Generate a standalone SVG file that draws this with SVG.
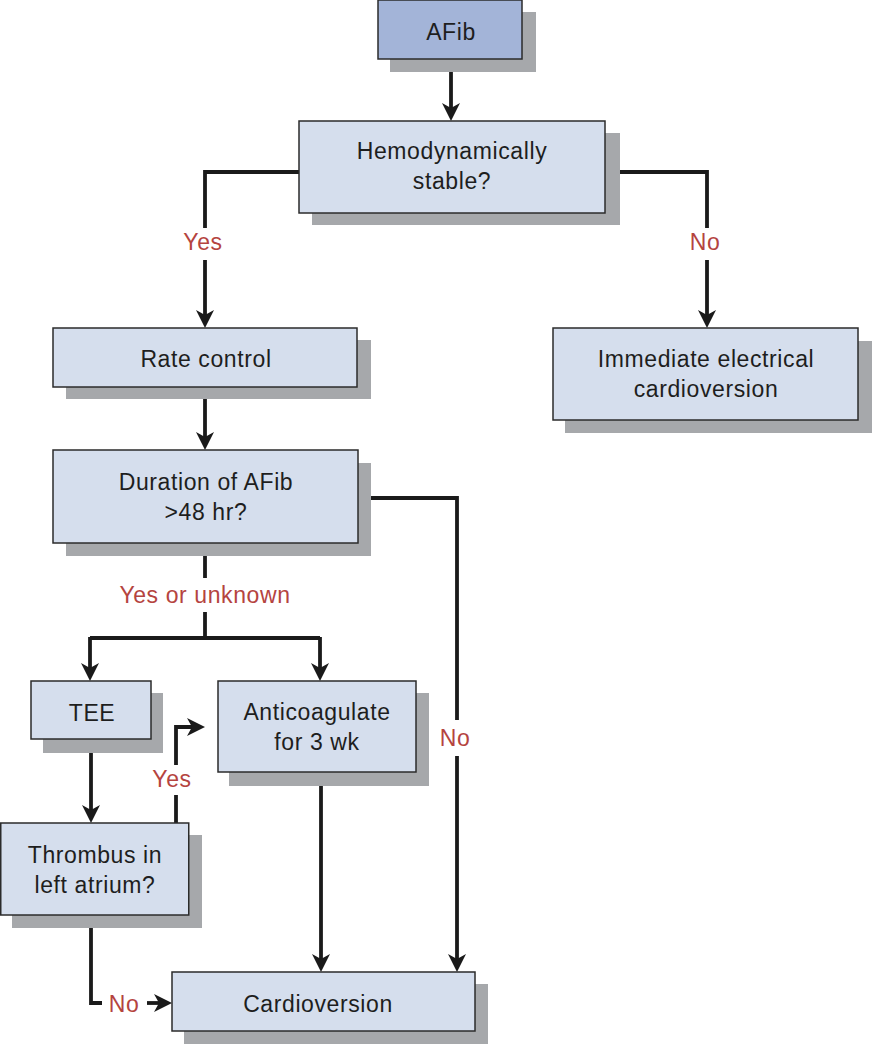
<svg xmlns="http://www.w3.org/2000/svg" width="872" height="1044" viewBox="0 0 872 1044">
<defs>
<marker id="ah" viewBox="0 0 18 20" refX="8" refY="10" markerWidth="18" markerHeight="20" markerUnits="userSpaceOnUse" orient="auto">
<path d="M0,1 L18,10 L0,19 L5,10 z" fill="#1a1a1a"/>
</marker>
<style>
.box{fill:#d5deed;stroke:#2b2b2b;stroke-width:1.5}
.start{fill:#a3b4d8;stroke:#2b2b2b;stroke-width:1.5}
.sh{fill:#a6a8ab}
.t{font-family:"Liberation Sans",Arial,sans-serif;font-size:23px;letter-spacing:0.6px;fill:#1e1e1e;text-anchor:middle}
.lbl{font-family:"Liberation Sans",Arial,sans-serif;font-size:23px;letter-spacing:0.6px;fill:#b5443f;text-anchor:middle}
.ln{fill:none;stroke:#1a1a1a;stroke-width:3.8}
.arr{fill:none;stroke:#1a1a1a;stroke-width:3.8;marker-end:url(#ah)}
</style>
</defs>
<rect width="872" height="1044" fill="#ffffff"/>

<g id="connectors">
<path class="arr" d="M451,72 L451,111"/>
<path class="ln" d="M299,172 L205,172 L205,228"/>
<path class="arr" d="M205,260 L205,318"/>
<path class="ln" d="M605,172 L707,172 L707,228"/>
<path class="arr" d="M707,260 L707,318"/>
<path class="arr" d="M205,399 L205,440"/>
<path class="ln" d="M205,556 L205,578"/>
<path class="ln" d="M205,612 L205,638"/>
<path class="ln" d="M90,638 L320,638"/>
<path class="arr" d="M90,637 L90,671"/>
<path class="arr" d="M320,637 L320,671"/>
<path class="ln" d="M371,498 L457,498 L457,720"/>
<path class="arr" d="M457,756 L457,962"/>
<path class="arr" d="M91,753 L91,813"/>
<path class="ln" d="M176,823 L176,795"/>
<path class="arr" d="M176,765 L176,727 L195,727"/>
<path class="ln" d="M91,928 L91,1003 L102,1003"/>
<path class="arr" d="M147,1003 L162,1003"/>
<path class="arr" d="M321,786 L321,962"/>
</g>

<g id="labels">
<text class="lbl" x="203" y="250">Yes</text>
<text class="lbl" x="705" y="250">No</text>
<text class="lbl" x="205" y="603">Yes or unknown</text>
<text class="lbl" x="455" y="746">No</text>
<text class="lbl" x="172" y="787">Yes</text>
<text class="lbl" x="124" y="1012">No</text>
</g>

<g id="afib">
<rect class="sh" x="390" y="12" width="146" height="60"/>
<rect class="start" x="378" y="0" width="144" height="59"/>
<text class="t" x="451" y="40">AFib</text>
</g>

<g id="hemo">
<rect class="sh" x="312" y="133" width="308" height="92"/>
<rect class="box" x="299" y="121" width="306" height="92"/>
<text class="t" x="452" y="159">Hemodynamically</text>
<text class="t" x="452" y="189">stable?</text>
</g>

<g id="rate">
<rect class="sh" x="66" y="340" width="305" height="59"/>
<rect class="box" x="53" y="328" width="304" height="59"/>
<text class="t" x="206" y="367">Rate control</text>
</g>

<g id="immediate">
<rect class="sh" x="565" y="341" width="307" height="92"/>
<rect class="box" x="553" y="328" width="305" height="92"/>
<text class="t" x="706" y="367">Immediate electrical</text>
<text class="t" x="706" y="397">cardioversion</text>
</g>

<g id="duration">
<rect class="sh" x="66" y="463" width="305" height="93"/>
<rect class="box" x="53" y="450" width="305" height="93"/>
<text class="t" x="206" y="490">Duration of AFib</text>
<text class="t" x="206" y="520">&gt;48 hr?</text>
</g>

<g id="tee">
<rect class="sh" x="43" y="693" width="120" height="60"/>
<rect class="box" x="31" y="681" width="120" height="58"/>
<text class="t" x="92" y="721">TEE</text>
</g>

<g id="anticoag">
<rect class="sh" x="229" y="693" width="200" height="93"/>
<rect class="box" x="218" y="681" width="198" height="91"/>
<text class="t" x="317" y="720">Anticoagulate</text>
<text class="t" x="317" y="750">for 3 wk</text>
</g>

<g id="thrombus">
<rect class="sh" x="12" y="835" width="190" height="93"/>
<rect class="box" x="0.75" y="823" width="188" height="92"/>
<text class="t" x="95" y="863">Thrombus in</text>
<text class="t" x="95" y="893">left atrium?</text>
</g>

<g id="cardioversion">
<rect class="sh" x="184" y="984" width="304" height="60"/>
<rect class="box" x="172" y="972" width="303" height="59"/>
<text class="t" x="318" y="1012">Cardioversion</text>
</g>
</svg>
